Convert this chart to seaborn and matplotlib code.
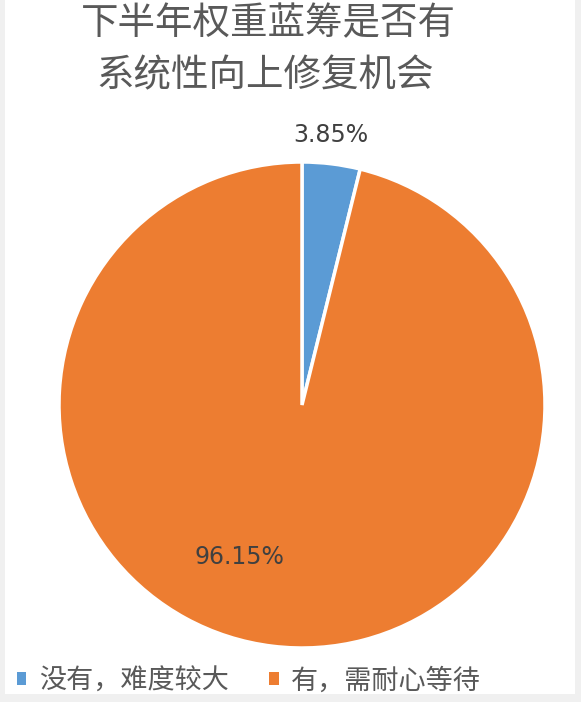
import matplotlib
matplotlib.use("Agg")
import matplotlib.pyplot as plt
import matplotlib.patches as mpatches
import seaborn as sns

categories = ["没有，难度较大", "有，需耐心等待"]
values = [3.85, 96.15]
colors = ["#5B9BD5", "#ED7D31"]
title_lines = ["下半年权重蓝筹是否有", "系统性向上修复机会"]

sns.set_theme(style="white")
plt.rcParams['font.family'] = ['Noto Sans CJK SC', 'DejaVu Sans']

W, H = 581, 702
fig = plt.figure(figsize=(W / 100, H / 100), dpi=100, facecolor="#f0f0f0")

# white panel
fig.patches.append(mpatches.Rectangle((5 / W, 8 / H), 570 / W, 694 / H,
                                      transform=fig.transFigure, facecolor="white",
                                      edgecolor="none", zorder=-10))

cx, cy, r = 302, 405, 243
ax = fig.add_axes([(cx - r) / W, (H - cy - r) / H, 2 * r / W, 2 * r / H])
ax.set_facecolor("none")
ax.set_zorder(5)
wedges, texts, autotexts = ax.pie(values, colors=colors, startangle=90, counterclock=False,
                                  autopct=lambda p: f"{p:.2f}%", pctdistance=1.12,
                                  wedgeprops=dict(edgecolor="white", linewidth=2.5),
                                  textprops=dict(fontsize=17, color="#404040", family="DejaVu Sans"))
for t in autotexts:
    t.set_clip_on(False)
autotexts[0].set_position((0.119, 1.111))
autotexts[1].set_position((-0.259, -0.626))
ax.set_xlim(-1, 1)
ax.set_ylim(-1, 1)
ax.set_aspect("equal")
ax.axis("off")

fig.text(268 / W, 1 - 24 / H, title_lines[0], ha="center", va="center",
         fontsize=27, color="#595959")
fig.text(265 / W, 1 - 76 / H, title_lines[1], ha="center", va="center",
         fontsize=27, color="#595959")

handles = [mpatches.Patch(facecolor=c, edgecolor="none") for c in colors]
leg = fig.legend(handles, categories, loc="center left", bbox_to_anchor=(17 / W, 1 - 681 / H),
                 ncol=2, frameon=False, fontsize=19.5, handlelength=0.35, handleheight=0.35,
                 handletextpad=0.45, columnspacing=1.5, borderaxespad=0, borderpad=0)
for t in leg.get_texts():
    t.set_color("#595959")

fig.savefig("out.png", dpi=100, facecolor=fig.get_facecolor())
